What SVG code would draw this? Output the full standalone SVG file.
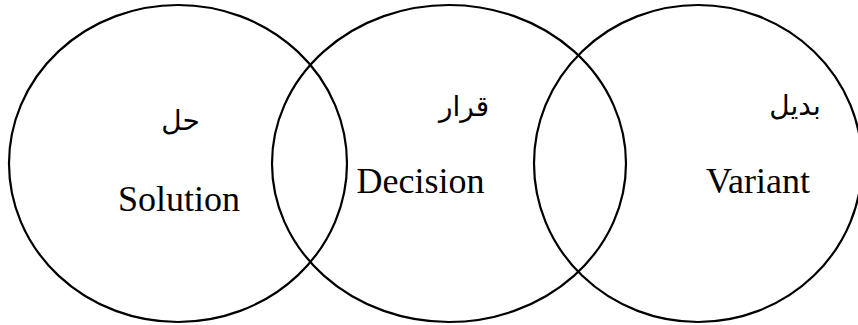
<svg xmlns="http://www.w3.org/2000/svg" width="858" height="325" viewBox="0 0 858 325">
<style>
.c{fill:none;stroke:#000;stroke-width:2.2}
.en{font-family:"Liberation Serif","Times New Roman",serif;font-size:36px;fill:#000;text-anchor:middle}
.ar{font-family:"DejaVu Sans","Noto Sans",sans-serif;font-size:28px;fill:#000;text-anchor:middle}
</style>
<rect width="858" height="325" fill="#fff"/>
<g id="solution">
<ellipse class="c" cx="178" cy="163.5" rx="169" ry="158.5"/>
<text class="ar" x="180.5" y="130">حل</text>
<text class="en" x="179" y="211">Solution</text>
</g>
<g id="decision">
<ellipse class="c" cx="449" cy="163.5" rx="177" ry="158.5"/>
<text class="ar" x="464" y="116">قرار</text>
<text class="en" x="420.5" y="193">Decision</text>
</g>
<g id="variant">
<ellipse class="c" cx="698" cy="163.5" rx="164" ry="158.5"/>
<text class="ar" x="795" y="115">بديل</text>
<text class="en" x="758" y="193">Variant</text>
</g>
</svg>
